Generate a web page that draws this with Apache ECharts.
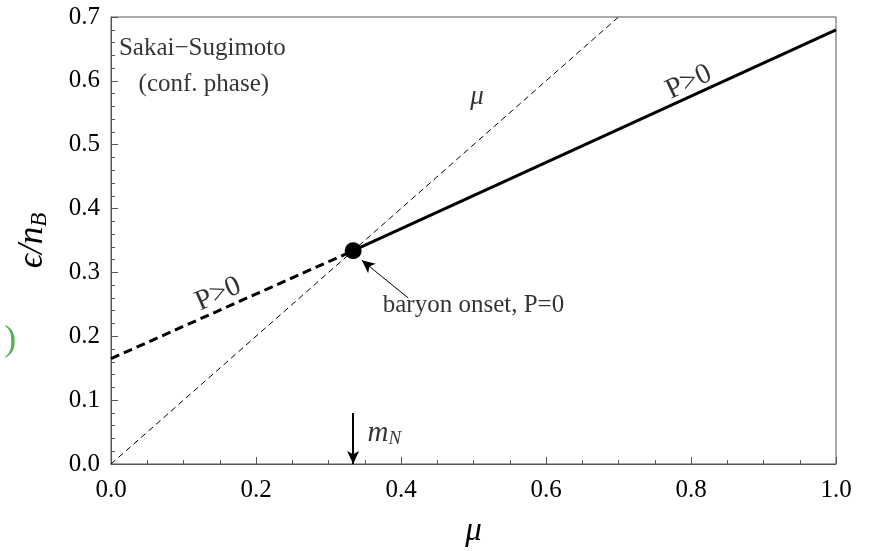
<!DOCTYPE html>
<html>
<head>
<meta charset="utf-8">
<script src="https://cdn.jsdelivr.net/npm/echarts@6/dist/echarts.min.js"></script>
<style>html,body{margin:0;padding:0;background:#fff}#c{width:869px;height:551px}</style>
</head>
<body>
<div id="c"></div>
<script>
// ---- data ----
const xTicks = [0.0, 0.2, 0.4, 0.6, 0.8, 1.0];
const yTicks = [0.0, 0.1, 0.2, 0.3, 0.4, 0.5, 0.6, 0.7];
const diagX = [0.0, 0.7];            // eps/nB = mu reference line
const diagY = [0.0, 0.7];
const lowX = [0.0, 0.334];           // dashed branch below onset
const lowY = [0.165, 0.334];
const highX = [0.334, 1.0];          // solid branch above onset
const highY = [0.334, 0.68];
const onsetX = [0.334];
const onsetY = [0.334];
const mN = 0.334;

const SERIF = '"Liberation Serif", "DejaVu Serif", serif';
const zip = (a, b) => a.map((v, i) => [v, b[i]]);

function textPt(x, y, text, opts) {
  return {
    value: [x, y],
    label: Object.assign({
      show: true, position: 'inside', formatter: text,
      fontFamily: SERIF, fontSize: 22, color: '#000'
    }, opts || {})
  };
}

const chart = echarts.init(document.getElementById('c'), null, {renderer: 'canvas'});
chart.setOption({
  animation: false,
  backgroundColor: '#fff',
  grid: {left: 111, right: 33, top: 17, bottom: 87, show: true, borderColor: '#555', borderWidth: 1,
         backgroundColor: 'transparent', containLabel: false, outerBoundsMode: 'none'},
  xAxis: {
    type: 'value', min: 0, max: 1, interval: 0.2,
    name: 'μ', nameLocation: 'middle', nameGap: 51,
    nameTextStyle: {fontFamily: SERIF, fontStyle: 'italic', fontSize: 33, color: '#000'},
    axisLine: {show: true, lineStyle: {color: '#555', width: 1}},
    axisTick: {show: true, inside: true, length: 7, lineStyle: {color: '#555'}},
    minorTick: {show: true, splitNumber: 4, length: 4, lineStyle: {color: '#555'}},
    splitLine: {show: false},
    axisLabel: {fontFamily: SERIF, fontSize: 25, color: '#000', margin: 14,
      formatter: v => xTicks.find(t => Math.abs(t - v) < 1e-9).toFixed(1)}
  },
  yAxis: {
    type: 'value', min: 0, max: 0.7, interval: 0.1,
    name: '{e|ϵ/n}{s|B}', nameLocation: 'middle', nameGap: 60, nameRotate: 90,
    nameTextStyle: {rich: {
      e: {fontFamily: SERIF, fontStyle: 'italic', fontSize: 35, color: '#000'},
      s: {fontFamily: SERIF, fontStyle: 'italic', fontSize: 23, color: '#000', verticalAlign: 'bottom', padding: [14, 0, 0, 0]}
    }},
    axisLine: {show: true, lineStyle: {color: '#555', width: 1}},
    axisTick: {show: true, inside: true, length: 7, lineStyle: {color: '#555'}},
    minorTick: {show: true, splitNumber: 5, length: 4, lineStyle: {color: '#555'}},
    splitLine: {show: false},
    axisLabel: {fontFamily: SERIF, fontSize: 25, color: '#000', margin: 11,
      formatter: v => yTicks.find(t => Math.abs(t - v) < 1e-9).toFixed(1)}
  },
  series: [
    {type: 'line', data: zip(diagX, diagY), symbol: 'none', silent: true,
     lineStyle: {color: '#000', width: 1, type: [6, 4]}},
    {type: 'line', data: zip(lowX, lowY), symbol: 'none', silent: true,
     lineStyle: {color: '#000', width: 3, type: [9, 5]}},
    {type: 'line', data: zip(highX, highY), symbol: 'none', silent: true,
     lineStyle: {color: '#000', width: 3, type: 'solid'},
     markLine: {
       silent: true, symbol: ['none', 'arrow'], symbolSize: [9, 13],
       label: {show: false},
       data: [
         [{coord: [0.41, 0.26], lineStyle: {color: '#000', width: 1, type: 'solid'}}, {coord: [0.346, 0.319]}],
         [{coord: [mN, 0.08], lineStyle: {color: '#000', width: 2, type: 'solid'}}, {coord: [mN, 0.0]}]
       ]
     }},
    {type: 'scatter', data: zip(onsetX, onsetY), symbol: 'circle', symbolSize: 17,
     itemStyle: {color: '#000', opacity: 1}, silent: true, z: 5},
    {type: 'scatter', symbolSize: 0, silent: true, clip: false, z: 6,
     data: [
       textPt(0.126, 0.651, 'Sakai−Sugimoto', {fontSize: 25}),
       textPt(0.128, 0.594, '(conf. phase)', {fontSize: 25}),
       textPt(0.505, 0.575, 'μ', {fontStyle: 'italic', fontSize: 27}),
       textPt(0.797, 0.598, 'P>0', {fontSize: 29, rotate: 25}),
       textPt(0.148, 0.266, 'P>0', {fontSize: 29, rotate: 24}),
       textPt(0.5, 0.249, 'baryon onset, P=0', {fontSize: 25}),
       textPt(0.377, 0.048, '{m|m}{n|N}', {rich: {
         m: {fontFamily: SERIF, fontStyle: 'italic', fontSize: 29, color: '#000'},
         n: {fontFamily: SERIF, fontStyle: 'italic', fontSize: 19, color: '#000', verticalAlign: 'bottom', padding: [12, 0, 0, 0]}
       }}),
       textPt(-0.139, 0.194, ')', {fontSize: 36, color: '#2a9d2a'})
     ]}
  ]
});
</script>
</body>
</html>
